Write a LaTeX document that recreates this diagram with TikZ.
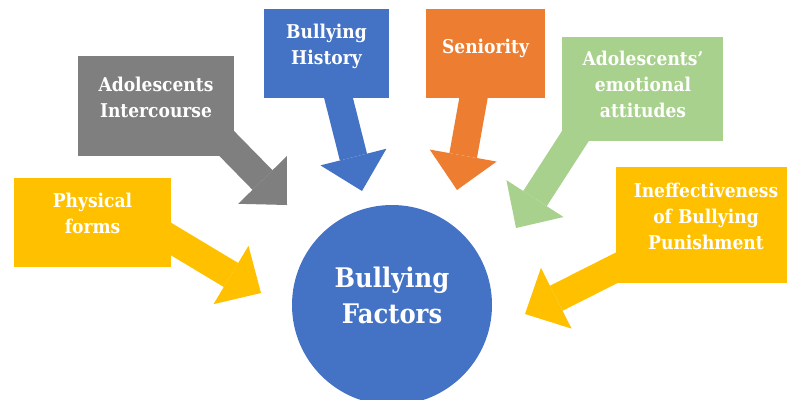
\documentclass[tikz,border=0pt]{standalone}
\usepackage{fontspec}
\setmainfont{DejaVu Serif}[FakeStretch=0.9]
\usetikzlibrary{arrows.meta}
\definecolor{cgold}{HTML}{FFC000}
\definecolor{cgrey}{HTML}{7F7F7F}
\definecolor{cblue}{HTML}{4472C4}
\definecolor{corange}{HTML}{ED7D31}
\definecolor{cgreen}{HTML}{A9D18E}

\begin{document}
\begin{tikzpicture}[x=1pt, y=-1pt, box/.style = {rectangle, inner sep=0pt},
    txt/.style = {text=white, font=\bfseries\fontsize{19}{26}\selectfont, align=center, anchor=base},
    fat/.style = {line width=28pt, -{Triangle[length=35pt, width=68pt, line width=0pt]}}]
    \useasboundingbox (0,0) rectangle (787,399);
    \clip (0,0) rectangle (787,399);

    % Disegna i riquadri
    \node[box, fill=cgold, minimum width=157pt, minimum height=89pt] (phys) at (92.5,222.5) {};
    \node[box, fill=cgrey, minimum width=156pt, minimum height=100pt] (inter) at (156,106) {};
    \node[box, fill=cblue, minimum width=125pt, minimum height=89pt] (hist) at (326.5,53.5) {};
    \node[box, fill=corange, minimum width=119pt, minimum height=89pt] (seni) at (485.5,53.5) {};
    \node[box, fill=cgreen, minimum width=161pt, minimum height=104pt] (emot) at (642.5,89) {};
    \node[box, fill=cgold, minimum width=180pt, minimum height=116pt] (ineff) at (706,225) {};

    \coordinate (physto) at (261,293);
    \coordinate (interto) at (287,205);
    \coordinate (histto) at (362,191);
    \coordinate (senito) at (457,190);
    \coordinate (emotto) at (516,228);
    \coordinate (ineffto) at (525,314);

    \draw[fat, cgold] ([xshift=57pt, yshift=-3.6pt]phys.center) -- (physto);
    \draw[fat, cgrey] ([xshift=61pt, yshift=-27.6pt]inter.center) -- (interto);
    \draw[fat, cblue] ([xshift=5.9pt, yshift=-20.2pt]hist.center) -- (histto);
    \draw[fat, corange] ([xshift=-7.6pt, yshift=-19.9pt]seni.center) -- (senito);
    \draw[fat, cgreen] ([xshift=-56pt, yshift=-29.8pt]emot.center) -- (emotto);
    \draw[fat, cgold] ([xshift=-69.4pt, yshift=-32.7pt]ineff.center) -- (ineffto);

    % testi (ancorati alla riga di base dell'ultima riga)
    \node[txt] (physt) at (92.5,233) {Physical\\forms};
    \node[txt] (intert) at (156,117) {Adolescents\\Intercourse};
    \node[txt] (histt) at (326.5,64) {Bullying\\History};
    \node[txt] (senit) at (485.5,53) {Seniority};
    \node[txt] (emott) at (643,117) {Adolescents’\\emotional\\attitudes};
    \node[txt] (innert) at (706,249) {Ineffectiveness\\of Bullying\\Punishment};

    \node[circle, fill=cblue, minimum size=200pt, inner sep=0pt] (bf) at (392,305) {};
    \node[txt, font=\bfseries\fontsize{27}{36}\selectfont] (bft) at (392,323) {Bullying\\Factors};

\end{tikzpicture}
\end{document}
